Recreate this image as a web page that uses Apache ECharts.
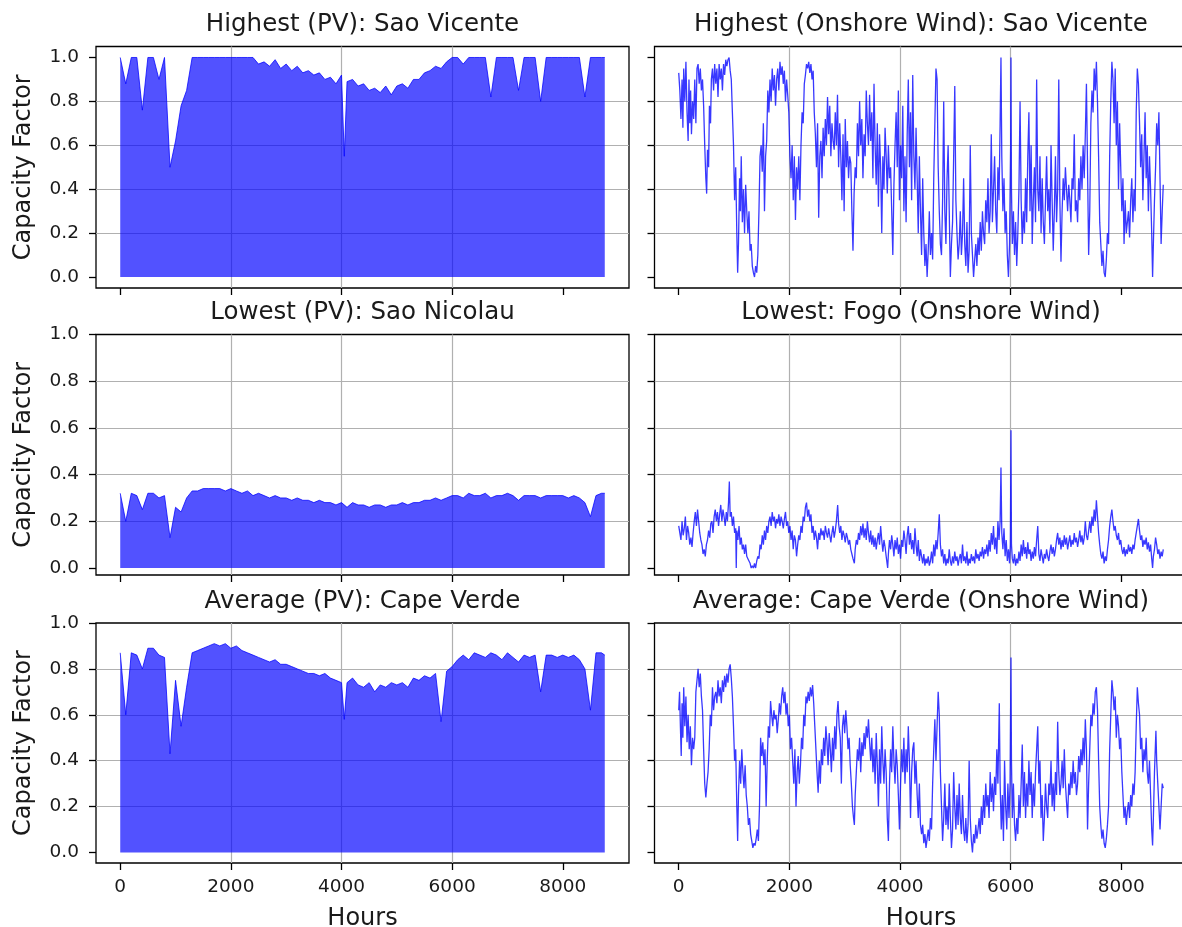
<!DOCTYPE html>
<html><head><meta charset="utf-8">
<script src="https://cdn.jsdelivr.net/npm/echarts@6/dist/echarts.min.js"></script>
<style>html,body{margin:0;padding:0;background:#fff}#c{width:1182px;height:927px}</style>
</head><body><div id="c"></div><script>
// ---- tick labels ----
const xTicks = [0, 2000, 4000, 6000, 8000];
const yTicks = [0, 0.2, 0.4, 0.6, 0.8, 1.0];
// ---- panel titles ----
const pvTitles = ['Highest (PV): Sao Vicente', 'Lowest (PV): Sao Nicolau', 'Average (PV): Cape Verde'];
const windTitles = ['Highest (Onshore Wind): Sao Vicente', 'Lowest: Fogo (Onshore Wind)', 'Average: Cape Verde (Onshore Wind)'];
// ---- PV daily-peak envelopes [hour, capacity factor] ----
const pvHighest = [[0,1.0],[100,0.88],[200,1.0],[300,1.0],[400,0.76],[500,1.0],[600,1.0],[700,0.9],[800,1.0],[900,0.5],[1000,0.62],[1100,0.78],[1200,0.85],[1300,1.0],[1400,1.0],[1500,1.0],[1600,1.0],[1700,1.0],[1800,1.0],[1900,1.0],[2000,1.0],[2100,1.0],[2200,1.0],[2300,1.0],[2400,1.0],[2500,0.97],[2600,0.98],[2700,0.96],[2800,0.99],[2900,0.95],[3000,0.97],[3100,0.94],[3200,0.96],[3300,0.93],[3400,0.94],[3500,0.92],[3600,0.93],[3700,0.9],[3800,0.91],[3900,0.88],[4000,0.92],[4050,0.55],[4100,0.89],[4200,0.9],[4300,0.87],[4400,0.88],[4500,0.85],[4600,0.86],[4700,0.84],[4800,0.87],[4900,0.83],[5000,0.87],[5100,0.88],[5200,0.86],[5300,0.9],[5400,0.9],[5500,0.93],[5600,0.94],[5700,0.96],[5800,0.95],[5900,0.98],[6000,1.0],[6100,1.0],[6200,0.97],[6300,1.0],[6400,1.0],[6500,1.0],[6600,1.0],[6700,0.82],[6800,1.0],[6900,1.0],[7000,1.0],[7100,1.0],[7200,0.85],[7300,1.0],[7400,1.0],[7500,1.0],[7600,0.8],[7700,1.0],[7800,1.0],[7900,1.0],[8000,1.0],[8100,1.0],[8200,1.0],[8300,1.0],[8400,0.82],[8500,1.0],[8600,1.0],[8700,1.0],[8759,1.0]];
const pvLowest = [[0,0.32],[100,0.2],[200,0.32],[300,0.31],[400,0.25],[500,0.32],[600,0.32],[700,0.3],[800,0.31],[900,0.13],[1000,0.26],[1100,0.24],[1200,0.3],[1300,0.33],[1400,0.33],[1500,0.34],[1600,0.34],[1700,0.34],[1800,0.34],[1900,0.33],[2000,0.34],[2100,0.33],[2200,0.32],[2300,0.33],[2400,0.31],[2500,0.32],[2600,0.31],[2700,0.3],[2800,0.31],[2900,0.3],[3000,0.3],[3100,0.29],[3200,0.3],[3300,0.29],[3400,0.29],[3500,0.28],[3600,0.29],[3700,0.28],[3800,0.28],[3900,0.27],[4000,0.28],[4100,0.26],[4200,0.28],[4300,0.27],[4400,0.27],[4500,0.26],[4600,0.27],[4700,0.27],[4800,0.26],[4900,0.27],[5000,0.27],[5100,0.28],[5200,0.27],[5300,0.28],[5400,0.28],[5500,0.29],[5600,0.29],[5700,0.3],[5800,0.29],[5900,0.3],[6000,0.31],[6100,0.31],[6200,0.3],[6300,0.32],[6400,0.31],[6500,0.31],[6600,0.32],[6700,0.3],[6800,0.31],[6900,0.31],[7000,0.32],[7100,0.31],[7200,0.29],[7300,0.31],[7400,0.31],[7500,0.31],[7600,0.3],[7700,0.31],[7800,0.31],[7900,0.31],[8000,0.31],[8100,0.3],[8200,0.31],[8300,0.3],[8400,0.28],[8500,0.22],[8600,0.31],[8700,0.32],[8759,0.32]];
const pvAverage = [[0,0.87],[100,0.6],[200,0.87],[300,0.86],[400,0.8],[500,0.89],[600,0.89],[700,0.86],[800,0.85],[900,0.43],[1000,0.75],[1100,0.55],[1200,0.72],[1300,0.87],[1400,0.88],[1500,0.89],[1600,0.9],[1700,0.91],[1800,0.9],[1900,0.91],[2000,0.89],[2100,0.9],[2200,0.88],[2300,0.87],[2400,0.86],[2500,0.85],[2600,0.84],[2700,0.83],[2800,0.84],[2900,0.82],[3000,0.82],[3100,0.81],[3200,0.8],[3300,0.79],[3400,0.78],[3500,0.78],[3600,0.77],[3700,0.78],[3800,0.76],[3900,0.75],[4000,0.74],[4050,0.58],[4100,0.74],[4200,0.76],[4300,0.73],[4400,0.72],[4500,0.74],[4600,0.7],[4700,0.73],[4800,0.72],[4900,0.74],[5000,0.73],[5100,0.74],[5200,0.72],[5300,0.76],[5400,0.75],[5500,0.77],[5600,0.76],[5700,0.78],[5800,0.57],[5900,0.79],[6000,0.81],[6100,0.84],[6200,0.86],[6300,0.84],[6400,0.87],[6500,0.86],[6600,0.85],[6700,0.87],[6800,0.86],[6900,0.84],[7000,0.87],[7100,0.85],[7200,0.83],[7300,0.86],[7400,0.85],[7500,0.86],[7600,0.7],[7700,0.86],[7800,0.86],[7900,0.85],[8000,0.86],[8100,0.85],[8200,0.86],[8300,0.84],[8400,0.8],[8500,0.62],[8600,0.87],[8700,0.87],[8759,0.86]];
// ---- onshore wind series [hour, capacity factor] ----
const windHighest = [[0,0.93],[20,0.85],[40,0.72],[60,0.9],[75,0.68],[90,0.95],[110,0.8],[130,0.98],[150,0.75],[170,0.62],[185,0.9],[200,0.7],[215,0.85],[230,0.65],[250,0.8],[270,0.72],[290,0.9],[310,0.7],[330,0.95],[350,0.97],[370,0.88],[390,0.95],[410,0.85],[430,0.9],[450,0.78],[470,0.6],[490,0.45],[505,0.38],[520,0.58],[540,0.5],[555,0.78],[575,0.7],[590,0.9],[610,0.95],[630,0.85],[650,0.97],[670,0.88],[690,0.95],[710,0.82],[730,0.97],[750,0.9],[770,0.95],[790,0.85],[810,0.97],[830,0.92],[850,0.99],[870,0.96],[890,0.99],[910,1.0],[930,0.94],[950,0.9],[970,0.75],[990,0.6],[1010,0.35],[1030,0.5],[1050,0.2],[1065,0.02],[1080,0.15],[1100,0.45],[1115,0.3],[1130,0.55],[1150,0.25],[1170,0.4],[1190,0.2],[1210,0.42],[1230,0.3],[1250,0.2],[1270,0.3],[1290,0.12],[1310,0.15],[1330,0.05],[1350,0.02],[1370,0.0],[1390,0.05],[1410,0.02],[1430,0.1],[1450,0.3],[1470,0.55],[1490,0.6],[1510,0.48],[1530,0.7],[1550,0.3],[1570,0.55],[1590,0.62],[1610,0.85],[1630,0.75],[1650,0.9],[1670,0.8],[1690,0.95],[1710,0.85],[1730,0.92],[1750,0.78],[1770,0.9],[1790,0.95],[1810,0.85],[1830,0.98],[1850,0.92],[1870,0.96],[1890,0.88],[1910,0.94],[1930,0.8],[1950,0.9],[1970,0.83],[1990,0.75],[2010,0.55],[2030,0.45],[2050,0.6],[2070,0.35],[2090,0.55],[2110,0.26],[2130,0.5],[2150,0.4],[2170,0.55],[2190,0.35],[2210,0.6],[2230,0.75],[2250,0.7],[2270,0.88],[2290,0.92],[2310,0.97],[2330,0.95],[2350,0.98],[2370,0.93],[2390,0.97],[2410,0.9],[2430,0.94],[2450,0.75],[2470,0.65],[2490,0.5],[2510,0.7],[2530,0.27],[2550,0.55],[2570,0.62],[2590,0.45],[2610,0.68],[2630,0.55],[2650,0.72],[2670,0.6],[2690,0.82],[2710,0.65],[2730,0.78],[2750,0.55],[2770,0.7],[2790,0.62],[2810,0.58],[2830,0.75],[2850,0.6],[2870,0.83],[2890,0.5],[2910,0.7],[2930,0.55],[2950,0.35],[2970,0.65],[2990,0.3],[3010,0.72],[3030,0.5],[3050,0.62],[3070,0.45],[3090,0.55],[3110,0.52],[3130,0.3],[3150,0.12],[3170,0.38],[3190,0.5],[3210,0.45],[3230,0.7],[3250,0.55],[3270,0.8],[3290,0.6],[3310,0.72],[3330,0.45],[3350,0.65],[3370,0.55],[3390,0.85],[3410,0.7],[3430,0.6],[3450,0.83],[3470,0.62],[3490,0.75],[3510,0.45],[3530,0.88],[3550,0.6],[3570,0.42],[3590,0.7],[3610,0.32],[3630,0.65],[3650,0.5],[3670,0.2],[3690,0.55],[3710,0.4],[3730,0.68],[3750,0.55],[3770,0.38],[3790,0.6],[3810,0.45],[3830,0.5],[3850,0.3],[3870,0.1],[3890,0.42],[3910,0.6],[3930,0.75],[3950,0.5],[3970,0.85],[3990,0.35],[4010,0.6],[4030,0.45],[4050,0.78],[4070,0.3],[4090,0.55],[4110,0.25],[4130,0.65],[4150,0.9],[4170,0.5],[4190,0.75],[4210,0.35],[4230,0.92],[4250,0.55],[4270,0.4],[4290,0.68],[4310,0.45],[4330,0.2],[4350,0.55],[4370,0.3],[4390,0.1],[4410,0.45],[4430,0.2],[4450,0.05],[4470,0.15],[4490,0.0],[4510,0.12],[4530,0.3],[4550,0.1],[4570,0.2],[4590,0.08],[4610,0.45],[4630,0.7],[4650,0.95],[4670,0.9],[4690,0.5],[4710,0.3],[4730,0.15],[4750,0.1],[4770,0.35],[4790,0.8],[4810,0.3],[4830,0.15],[4850,0.45],[4870,0.6],[4890,0.3],[4910,0.0],[4930,0.15],[4950,0.25],[4970,0.55],[4990,0.87],[5010,0.35],[5030,0.2],[5050,0.08],[5070,0.15],[5090,0.3],[5110,0.1],[5130,0.2],[5150,0.45],[5170,0.15],[5190,0.05],[5210,0.25],[5230,0.02],[5250,0.12],[5270,0.6],[5290,0.2],[5310,0.1],[5330,0.0],[5350,0.08],[5370,0.15],[5390,0.05],[5410,0.18],[5430,0.1],[5450,0.25],[5470,0.12],[5490,0.3],[5510,0.2],[5530,0.15],[5550,0.35],[5570,0.25],[5590,0.45],[5610,0.2],[5630,0.3],[5650,0.65],[5670,0.25],[5690,0.4],[5710,0.55],[5730,0.3],[5750,0.2],[5770,0.5],[5790,0.35],[5810,0.7],[5825,1.0],[5840,0.55],[5860,0.3],[5880,0.45],[5900,0.2],[5920,0.3],[5940,0.1],[5960,0.0],[5980,0.15],[6000,0.6],[6006,1.0],[6015,0.4],[6030,0.15],[6050,0.3],[6070,0.1],[6090,0.25],[6110,0.05],[6130,0.2],[6150,0.4],[6170,0.8],[6190,0.35],[6210,0.15],[6230,0.3],[6250,0.2],[6270,0.45],[6290,0.25],[6310,0.55],[6330,0.75],[6350,0.3],[6370,0.6],[6390,0.15],[6410,0.35],[6430,0.5],[6450,0.25],[6470,0.9],[6490,0.4],[6510,0.3],[6530,0.55],[6550,0.2],[6570,0.45],[6590,0.25],[6610,0.15],[6630,0.35],[6650,0.55],[6670,0.3],[6690,0.4],[6710,0.2],[6730,0.6],[6750,0.35],[6770,0.12],[6790,0.3],[6810,0.55],[6830,0.25],[6850,0.4],[6870,0.9],[6890,0.35],[6910,0.07],[6930,0.3],[6950,0.45],[6970,0.35],[6990,0.5],[7010,0.4],[7030,0.3],[7050,0.42],[7070,0.35],[7090,0.25],[7110,0.45],[7130,0.4],[7150,0.65],[7170,0.3],[7190,0.35],[7210,0.25],[7230,0.45],[7250,0.35],[7270,0.55],[7290,0.4],[7310,0.6],[7330,0.45],[7350,0.65],[7370,0.88],[7390,0.5],[7410,0.1],[7430,0.3],[7450,0.7],[7470,0.85],[7490,0.75],[7510,0.95],[7530,0.85],[7550,0.98],[7570,0.8],[7590,0.55],[7610,0.25],[7630,0.15],[7650,0.05],[7670,0.12],[7690,0.02],[7710,0.0],[7730,0.08],[7750,0.2],[7770,0.15],[7790,0.55],[7810,0.8],[7830,0.98],[7850,0.9],[7870,0.7],[7890,0.95],[7910,0.6],[7930,0.8],[7950,0.4],[7970,0.7],[7990,0.5],[8010,0.3],[8030,0.45],[8050,0.15],[8070,0.35],[8090,0.2],[8110,0.25],[8130,0.3],[8150,0.18],[8170,0.35],[8190,0.45],[8210,0.25],[8230,0.4],[8250,0.3],[8270,0.75],[8290,0.95],[8310,0.88],[8330,0.7],[8350,0.5],[8370,0.65],[8390,0.35],[8410,0.55],[8430,0.75],[8450,0.45],[8470,0.6],[8490,0.3],[8510,0.55],[8530,0.4],[8550,0.2],[8566,0.0],[8580,0.15],[8600,0.35],[8620,0.5],[8640,0.7],[8660,0.6],[8680,0.75],[8700,0.45],[8720,0.15],[8740,0.3],[8759,0.42]];
const windLowest = [[0,0.18],[20,0.15],[40,0.12],[60,0.2],[80,0.14],[100,0.17],[120,0.22],[140,0.12],[160,0.18],[180,0.15],[200,0.1],[220,0.13],[240,0.09],[260,0.15],[280,0.2],[300,0.24],[320,0.18],[340,0.25],[360,0.2],[380,0.15],[400,0.12],[420,0.1],[440,0.06],[460,0.08],[480,0.05],[500,0.1],[520,0.12],[540,0.16],[560,0.13],[580,0.19],[600,0.2],[620,0.15],[640,0.22],[660,0.25],[680,0.2],[700,0.24],[720,0.18],[740,0.23],[760,0.27],[780,0.2],[800,0.25],[820,0.22],[840,0.18],[860,0.24],[880,0.2],[900,0.28],[915,0.37],[930,0.22],[950,0.24],[970,0.18],[990,0.22],[1010,0.15],[1030,0.17],[1040,0.0],[1050,0.16],[1070,0.12],[1090,0.18],[1110,0.1],[1130,0.13],[1150,0.08],[1170,0.1],[1190,0.06],[1210,0.1],[1230,0.05],[1250,0.04],[1270,0.03],[1290,0.02],[1310,0.0],[1330,0.01],[1350,0.0],[1370,0.02],[1390,0.0],[1410,0.03],[1430,0.05],[1450,0.04],[1470,0.1],[1490,0.08],[1510,0.14],[1530,0.1],[1550,0.16],[1570,0.12],[1590,0.18],[1610,0.15],[1630,0.2],[1650,0.22],[1670,0.18],[1690,0.24],[1710,0.2],[1730,0.22],[1750,0.17],[1770,0.21],[1790,0.19],[1810,0.23],[1830,0.18],[1850,0.22],[1870,0.2],[1890,0.17],[1910,0.21],[1930,0.24],[1950,0.18],[1970,0.2],[1990,0.15],[2010,0.18],[2030,0.12],[2050,0.16],[2070,0.08],[2090,0.14],[2110,0.12],[2130,0.05],[2150,0.1],[2170,0.14],[2190,0.12],[2210,0.18],[2230,0.15],[2250,0.22],[2270,0.2],[2290,0.26],[2310,0.28],[2330,0.22],[2350,0.25],[2370,0.2],[2390,0.23],[2410,0.15],[2430,0.18],[2450,0.12],[2470,0.16],[2490,0.13],[2510,0.08],[2530,0.15],[2550,0.12],[2570,0.17],[2590,0.14],[2610,0.16],[2630,0.12],[2650,0.18],[2670,0.15],[2690,0.13],[2710,0.17],[2730,0.14],[2750,0.11],[2770,0.15],[2790,0.18],[2810,0.13],[2830,0.16],[2850,0.2],[2873,0.27],[2890,0.19],[2910,0.15],[2930,0.18],[2950,0.12],[2970,0.16],[2990,0.14],[3010,0.11],[3030,0.15],[3050,0.13],[3070,0.1],[3090,0.12],[3110,0.08],[3130,0.06],[3150,0.04],[3175,0.02],[3190,0.08],[3210,0.12],[3230,0.1],[3250,0.15],[3270,0.12],[3290,0.18],[3310,0.14],[3330,0.19],[3350,0.13],[3370,0.17],[3390,0.12],[3410,0.2],[3430,0.15],[3450,0.11],[3470,0.16],[3490,0.1],[3510,0.14],[3530,0.09],[3550,0.13],[3570,0.08],[3590,0.12],[3610,0.15],[3630,0.1],[3650,0.18],[3670,0.12],[3690,0.07],[3710,0.12],[3730,0.09],[3750,0.05],[3777,0.0],[3790,0.06],[3810,0.12],[3830,0.08],[3850,0.14],[3870,0.1],[3890,0.05],[3910,0.12],[3930,0.08],[3950,0.13],[3970,0.06],[3990,0.1],[4010,0.04],[4030,0.12],[4050,0.09],[4070,0.16],[4090,0.12],[4110,0.06],[4130,0.14],[4150,0.18],[4170,0.1],[4190,0.15],[4210,0.08],[4230,0.12],[4250,0.06],[4270,0.17],[4290,0.1],[4310,0.05],[4330,0.12],[4350,0.03],[4370,0.08],[4390,0.05],[4410,0.02],[4430,0.06],[4450,0.01],[4470,0.04],[4490,0.02],[4510,0.05],[4530,0.01],[4550,0.03],[4570,0.07],[4590,0.02],[4610,0.1],[4630,0.05],[4650,0.12],[4670,0.08],[4690,0.15],[4710,0.23],[4730,0.1],[4750,0.05],[4770,0.08],[4790,0.02],[4810,0.06],[4830,0.01],[4850,0.04],[4870,0.02],[4890,0.08],[4910,0.03],[4930,0.01],[4950,0.05],[4970,0.02],[4990,0.07],[5010,0.03],[5030,0.05],[5050,0.01],[5070,0.04],[5090,0.06],[5110,0.02],[5130,0.1],[5150,0.03],[5170,0.05],[5190,0.02],[5210,0.07],[5230,0.01],[5250,0.04],[5270,0.02],[5290,0.06],[5310,0.03],[5330,0.05],[5350,0.02],[5370,0.08],[5390,0.04],[5410,0.06],[5430,0.03],[5450,0.07],[5470,0.05],[5490,0.09],[5510,0.04],[5530,0.08],[5550,0.06],[5570,0.1],[5590,0.05],[5610,0.12],[5630,0.07],[5650,0.15],[5670,0.1],[5690,0.18],[5710,0.08],[5730,0.13],[5750,0.06],[5770,0.2],[5790,0.12],[5810,0.2],[5825,0.43],[5840,0.15],[5860,0.08],[5880,0.17],[5900,0.05],[5920,0.12],[5940,0.03],[5960,0.08],[5980,0.02],[5995,0.1],[6006,0.59],[6015,0.1],[6030,0.04],[6050,0.02],[6070,0.06],[6090,0.01],[6110,0.04],[6130,0.02],[6150,0.07],[6170,0.03],[6190,0.1],[6210,0.05],[6230,0.12],[6250,0.06],[6270,0.09],[6290,0.04],[6310,0.11],[6330,0.06],[6350,0.08],[6370,0.03],[6390,0.07],[6410,0.04],[6430,0.09],[6450,0.05],[6470,0.12],[6490,0.18],[6510,0.06],[6530,0.03],[6550,0.08],[6570,0.05],[6590,0.02],[6610,0.06],[6630,0.04],[6650,0.08],[6670,0.05],[6690,0.03],[6710,0.07],[6730,0.1],[6750,0.06],[6770,0.09],[6790,0.05],[6810,0.08],[6830,0.12],[6850,0.15],[6870,0.1],[6890,0.13],[6910,0.08],[6930,0.12],[6950,0.09],[6970,0.14],[6990,0.1],[7010,0.13],[7030,0.08],[7050,0.11],[7070,0.14],[7090,0.09],[7110,0.12],[7130,0.1],[7150,0.15],[7170,0.11],[7190,0.13],[7210,0.09],[7230,0.12],[7250,0.16],[7270,0.11],[7290,0.14],[7310,0.1],[7330,0.13],[7350,0.2],[7370,0.14],[7390,0.12],[7410,0.16],[7430,0.2],[7450,0.15],[7470,0.22],[7490,0.18],[7510,0.25],[7530,0.2],[7550,0.29],[7570,0.22],[7590,0.15],[7610,0.1],[7630,0.06],[7650,0.04],[7670,0.07],[7690,0.02],[7710,0.05],[7730,0.03],[7750,0.08],[7770,0.12],[7790,0.18],[7810,0.22],[7830,0.25],[7850,0.2],[7870,0.16],[7890,0.18],[7910,0.14],[7930,0.12],[7950,0.15],[7970,0.1],[7990,0.12],[8010,0.08],[8030,0.06],[8050,0.09],[8070,0.05],[8090,0.08],[8110,0.06],[8130,0.1],[8150,0.07],[8170,0.09],[8190,0.06],[8210,0.1],[8230,0.08],[8250,0.12],[8270,0.15],[8290,0.18],[8310,0.21],[8330,0.16],[8350,0.12],[8370,0.14],[8390,0.09],[8410,0.12],[8430,0.1],[8450,0.13],[8470,0.08],[8490,0.11],[8510,0.07],[8530,0.1],[8550,0.04],[8566,0.0],[8580,0.05],[8600,0.08],[8620,0.13],[8640,0.1],[8660,0.06],[8680,0.08],[8700,0.04],[8720,0.07],[8740,0.05],[8759,0.08]];
const windAverage = [[0,0.62],[15,0.7],[30,0.55],[45,0.42],[60,0.65],[75,0.5],[90,0.72],[110,0.55],[130,0.68],[150,0.48],[170,0.6],[190,0.45],[210,0.55],[230,0.38],[250,0.5],[270,0.45],[290,0.5],[310,0.7],[330,0.75],[350,0.8],[370,0.72],[390,0.78],[410,0.68],[430,0.62],[450,0.45],[470,0.3],[490,0.24],[510,0.3],[530,0.35],[550,0.45],[570,0.6],[590,0.55],[610,0.72],[630,0.62],[650,0.68],[670,0.7],[690,0.65],[710,0.75],[730,0.68],[750,0.72],[770,0.65],[790,0.75],[810,0.7],[830,0.77],[850,0.72],[870,0.78],[890,0.74],[910,0.8],[930,0.82],[950,0.76],[970,0.68],[990,0.55],[1010,0.4],[1030,0.45],[1050,0.2],[1065,0.05],[1080,0.25],[1100,0.4],[1120,0.3],[1140,0.45],[1160,0.35],[1180,0.28],[1200,0.38],[1220,0.25],[1240,0.2],[1260,0.12],[1280,0.15],[1300,0.08],[1320,0.05],[1340,0.02],[1360,0.04],[1380,0.03],[1400,0.06],[1420,0.1],[1440,0.05],[1460,0.2],[1480,0.5],[1500,0.42],[1520,0.48],[1540,0.38],[1560,0.45],[1580,0.2],[1600,0.4],[1620,0.55],[1640,0.5],[1660,0.66],[1680,0.6],[1700,0.55],[1720,0.62],[1740,0.58],[1760,0.6],[1780,0.52],[1800,0.58],[1820,0.65],[1840,0.6],[1860,0.68],[1880,0.72],[1900,0.65],[1920,0.7],[1940,0.6],[1960,0.65],[1980,0.55],[2000,0.6],[2020,0.45],[2040,0.5],[2060,0.4],[2080,0.3],[2100,0.45],[2120,0.2],[2140,0.35],[2160,0.42],[2180,0.3],[2200,0.38],[2220,0.5],[2240,0.45],[2260,0.6],[2280,0.55],[2300,0.68],[2320,0.65],[2340,0.7],[2360,0.66],[2380,0.72],[2400,0.68],[2420,0.73],[2440,0.65],[2460,0.55],[2480,0.45],[2500,0.35],[2520,0.26],[2540,0.4],[2560,0.3],[2580,0.45],[2600,0.38],[2620,0.5],[2640,0.42],[2660,0.55],[2680,0.48],[2700,0.38],[2720,0.52],[2740,0.45],[2760,0.35],[2780,0.5],[2800,0.4],[2820,0.55],[2840,0.45],[2860,0.6],[2880,0.66],[2900,0.55],[2920,0.5],[2940,0.3],[2960,0.55],[2980,0.6],[3000,0.52],[3020,0.62],[3040,0.55],[3060,0.45],[3080,0.5],[3100,0.38],[3120,0.3],[3140,0.2],[3160,0.15],[3175,0.12],[3190,0.25],[3210,0.35],[3230,0.45],[3250,0.4],[3270,0.5],[3290,0.35],[3310,0.48],[3330,0.42],[3350,0.52],[3370,0.45],[3390,0.55],[3410,0.5],[3430,0.58],[3450,0.48],[3470,0.4],[3490,0.5],[3510,0.35],[3530,0.45],[3550,0.3],[3570,0.52],[3590,0.38],[3610,0.2],[3630,0.45],[3650,0.3],[3670,0.55],[3690,0.4],[3710,0.3],[3730,0.45],[3750,0.35],[3770,0.15],[3790,0.05],[3810,0.3],[3830,0.45],[3850,0.35],[3870,0.55],[3890,0.4],[3910,0.3],[3930,0.45],[3950,0.38],[3970,0.25],[3990,0.1],[4010,0.3],[4030,0.45],[4050,0.35],[4070,0.5],[4090,0.3],[4110,0.45],[4130,0.35],[4150,0.55],[4170,0.4],[4190,0.15],[4210,0.35],[4230,0.45],[4250,0.48],[4270,0.3],[4290,0.4],[4310,0.25],[4330,0.15],[4350,0.3],[4370,0.12],[4390,0.08],[4410,0.12],[4430,0.04],[4450,0.08],[4470,0.02],[4490,0.06],[4510,0.1],[4530,0.05],[4550,0.15],[4570,0.1],[4590,0.3],[4610,0.45],[4630,0.58],[4650,0.4],[4670,0.55],[4690,0.7],[4710,0.6],[4730,0.35],[4750,0.2],[4770,0.05],[4790,0.15],[4810,0.3],[4830,0.12],[4850,0.2],[4870,0.1],[4890,0.3],[4910,0.15],[4930,0.02],[4950,0.1],[4970,0.35],[4990,0.2],[5010,0.1],[5030,0.25],[5050,0.12],[5070,0.3],[5090,0.15],[5110,0.08],[5130,0.25],[5150,0.1],[5170,0.05],[5190,0.15],[5210,0.04],[5230,0.12],[5250,0.4],[5270,0.15],[5290,0.05],[5310,0.0],[5330,0.08],[5350,0.04],[5370,0.12],[5390,0.06],[5410,0.1],[5430,0.15],[5450,0.08],[5470,0.2],[5490,0.12],[5510,0.25],[5530,0.15],[5550,0.3],[5570,0.2],[5590,0.25],[5610,0.15],[5630,0.35],[5650,0.22],[5670,0.3],[5690,0.18],[5710,0.33],[5730,0.25],[5750,0.45],[5770,0.3],[5795,0.65],[5810,0.3],[5830,0.1],[5850,0.25],[5870,0.05],[5890,0.4],[5910,0.2],[5930,0.1],[5950,0.3],[5970,0.15],[5990,0.3],[6006,0.85],[6015,0.4],[6030,0.15],[6050,0.3],[6070,0.12],[6090,0.05],[6110,0.15],[6130,0.08],[6150,0.25],[6170,0.15],[6190,0.3],[6210,0.47],[6230,0.2],[6250,0.35],[6270,0.15],[6290,0.3],[6310,0.2],[6330,0.4],[6350,0.25],[6370,0.35],[6390,0.15],[6410,0.3],[6430,0.2],[6450,0.35],[6470,0.45],[6490,0.55],[6510,0.3],[6530,0.4],[6550,0.15],[6570,0.25],[6590,0.05],[6610,0.15],[6630,0.3],[6650,0.2],[6670,0.15],[6690,0.3],[6710,0.25],[6730,0.4],[6750,0.2],[6770,0.3],[6790,0.18],[6810,0.35],[6830,0.25],[6850,0.57],[6870,0.35],[6890,0.25],[6910,0.3],[6930,0.4],[6950,0.28],[6970,0.45],[6990,0.3],[7010,0.22],[7030,0.15],[7050,0.3],[7070,0.25],[7090,0.35],[7110,0.28],[7130,0.4],[7150,0.3],[7170,0.35],[7190,0.25],[7210,0.3],[7230,0.42],[7250,0.35],[7270,0.45],[7290,0.38],[7310,0.5],[7330,0.4],[7350,0.58],[7370,0.45],[7390,0.1],[7410,0.3],[7430,0.45],[7450,0.6],[7470,0.55],[7490,0.65],[7510,0.6],[7530,0.7],[7550,0.72],[7570,0.62],[7590,0.4],[7610,0.2],[7630,0.12],[7650,0.06],[7670,0.1],[7690,0.04],[7710,0.02],[7730,0.06],[7750,0.12],[7770,0.2],[7790,0.45],[7810,0.6],[7830,0.75],[7850,0.7],[7870,0.62],[7890,0.68],[7910,0.5],[7930,0.6],[7950,0.55],[7970,0.45],[7990,0.5],[8010,0.35],[8030,0.25],[8050,0.15],[8070,0.2],[8090,0.12],[8110,0.18],[8130,0.22],[8150,0.15],[8170,0.25],[8190,0.2],[8210,0.3],[8230,0.25],[8250,0.35],[8270,0.55],[8290,0.72],[8310,0.65],[8330,0.6],[8350,0.45],[8370,0.5],[8390,0.35],[8410,0.45],[8430,0.4],[8450,0.5],[8470,0.35],[8490,0.3],[8510,0.4],[8530,0.25],[8550,0.1],[8566,0.03],[8580,0.15],[8600,0.35],[8626,0.53],[8640,0.4],[8660,0.3],[8680,0.2],[8700,0.1],[8720,0.2],[8740,0.3],[8759,0.28]];

// ---- layout (pixels) ----
const FONT = 'DejaVu Sans';
const colLeft = [96, 654.5];
const colWidth = 533;
const rowTop = [46.5, 334.5, 623];
const rowHeight = [241.5, 240.5, 240];
const rowYMin = [-0.05, -0.03, -0.046];
const rowYMax = [1.05, 1.0, 1.0];
const xMin = -438, xMax = 9197;
const titleTop = [12, 300, 589];

const pvData = [pvHighest, pvLowest, pvAverage];
const windData = [windHighest, windLowest, windAverage];

const grids = [], xAxes = [], yAxes = [], series = [], titles = [];
const tickStyle = {color: '#000', width: 1.3};
const gridLine = {show: true, showMinLine: false, showMaxLine: false, lineStyle: {color: '#b0b0b0', width: 1.2}};

for (let r = 0; r < 3; r++) {
  for (let c = 0; c < 2; c++) {
    const i = r * 2 + c;
    grids.push({left: colLeft[c], top: rowTop[r], width: colWidth, height: rowHeight[r],
      show: true, borderColor: '#000', borderWidth: 1.3, backgroundColor: 'transparent',
      containLabel: false, outerBoundsMode: 'none'});
    xAxes.push({type: 'value', gridIndex: i, min: xMin, max: xMax, splitNumber: 5,
      axisLine: {show: false, onZero: false},
      axisTick: {show: true, customValues: xTicks, length: 7, lineStyle: tickStyle},
      axisLabel: {show: r === 2, customValues: xTicks, fontSize: 18.5, color: '#1a1a1a', fontFamily: FONT, margin: 15,
        formatter: v => String(v)},
      splitLine: gridLine,
      name: r === 2 ? 'Hours' : '', nameLocation: 'middle', nameGap: 44,
      nameTextStyle: {fontSize: 24, color: '#1a1a1a', fontFamily: FONT}});
    yAxes.push({type: 'value', gridIndex: i, min: rowYMin[r], max: rowYMax[r], splitNumber: 5,
      axisLine: {show: false, onZero: false},
      axisTick: {show: true, customValues: yTicks, length: 7, lineStyle: tickStyle},
      axisLabel: {show: c === 0, customValues: yTicks, fontSize: 18.5, color: '#1a1a1a', fontFamily: FONT, margin: 17,
        formatter: v => v.toFixed(1)},
      splitLine: gridLine,
      name: c === 0 ? 'Capacity Factor' : '', nameLocation: 'middle', nameGap: 60, nameRotate: 90,
      nameTextStyle: {fontSize: 24, color: '#1a1a1a', fontFamily: FONT}});
    titles.push({text: c === 0 ? pvTitles[r] : windTitles[r], left: colLeft[c] + colWidth / 2, top: titleTop[r],
      textAlign: 'center', padding: 0,
      textStyle: {fontSize: 24.5, fontWeight: 'normal', color: '#1a1a1a', fontFamily: FONT}});
    if (c === 0) {
      series.push({type: 'line', xAxisIndex: i, yAxisIndex: i, data: pvData[r], showSymbol: false, symbol: 'none',
        lineStyle: {width: 1, color: 'rgba(0,0,255,0.75)'},
        areaStyle: {color: 'rgba(0,0,255,0.68)', opacity: 1}, z: 2});
    } else {
      series.push({type: 'line', xAxisIndex: i, yAxisIndex: i, data: windData[r], showSymbol: false, symbol: 'none',
        lineStyle: {width: 1.3, color: 'rgba(0,0,255,0.78)'}, z: 2});
    }
  }
}

const chart = echarts.init(document.getElementById('c'), null, {renderer: 'canvas'});
chart.setOption({
  animation: false,
  backgroundColor: '#fff',
  textStyle: {fontFamily: FONT},
  title: titles, grid: grids, xAxis: xAxes, yAxis: yAxes, series: series
});
</script></body></html>
